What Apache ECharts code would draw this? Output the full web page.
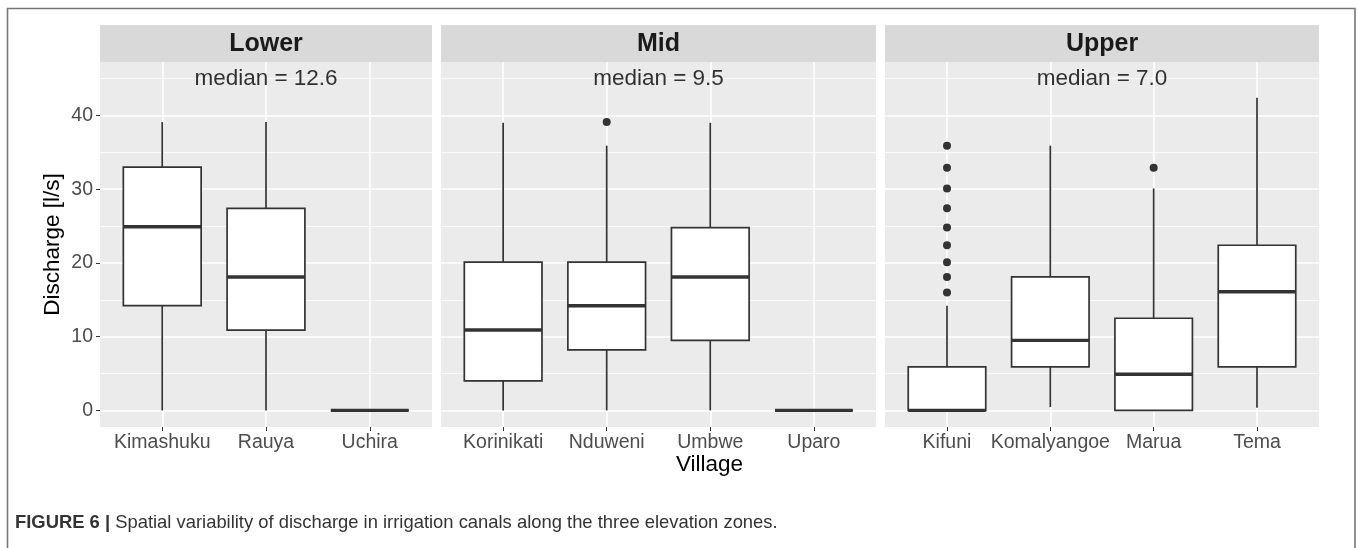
<!DOCTYPE html>
<html>
<head>
<meta charset="utf-8">
<script src="https://cdn.jsdelivr.net/npm/echarts@6/dist/echarts.min.js"></script>
<style>
html, body { margin: 0; padding: 0; background: #ffffff; }
#chart { width: 1358px; height: 548px; }
</style>
</head>
<body>
<div id="chart"></div>
<script>
// ---------------- DATA ----------------
const zones = ['Lower', 'Mid', 'Upper'];
const lowerVillages = ['Kimashuku', 'Rauya', 'Uchira'];
const midVillages = ['Korinikati', 'Nduweni', 'Umbwe', 'Uparo'];
const upperVillages = ['Kifuni', 'Komalyangoe', 'Marua', 'Tema'];
// box statistics per village: [lower whisker, Q1, median, Q3, upper whisker]
const lowerStats = [[0, 14.2, 24.9, 33.0, 39.1], [0, 10.9, 18.1, 27.4, 39.1], [0, 0, 0, 0, 0]];
const midStats = [[0, 4.0, 10.9, 20.1, 39.0], [0, 8.2, 14.2, 20.1, 35.9], [0, 9.5, 18.1, 24.8, 39.0], [0, 0, 0, 0, 0]];
const upperStats = [[0, 0, 0, 5.9, 14.2], [0.45, 5.9, 9.5, 18.1, 35.9], [0, 0, 4.9, 12.5, 30.1], [0.35, 5.9, 16.1, 22.4, 42.4]];
// outliers: [village index, discharge]
const lowerOutliers = [];
const midOutliers = [[1, 39.1]];
const upperOutliers = [[0, 35.9], [0, 32.9], [0, 30.1], [0, 27.4], [0, 24.8], [0, 22.4], [0, 20.1], [0, 18.1], [0, 16.0], [2, 32.9]];
const zoneMedians = [12.6, 9.5, 7.0];
const medianLabelY = 45;
const yTicks = [0, 10, 20, 30, 40];
const yMin = -2.25, yMax = 47.25;

// ---------------- LAYOUT ----------------
const FONT = '"Liberation Sans", Arial, Helvetica, sans-serif';
const zoneVillages = [lowerVillages, midVillages, upperVillages];
const zoneStats = [lowerStats, midStats, upperStats];
const zoneOutliers = [lowerOutliers, midOutliers, upperOutliers];
const panelLeft = [100, 441, 885];
const panelWidth = [332, 435, 434];
const panelTop = 62, panelHeight = 365, stripTop = 25, stripHeight = 37;
const INK = '#333333';

function boxRender(params, api) {
  const x = api.value(0);
  const pMin = api.coord([x, api.value(1)]);
  const pQ1 = api.coord([x, api.value(2)]);
  const pMed = api.coord([x, api.value(3)]);
  const pQ3 = api.coord([x, api.value(4)]);
  const pMax = api.coord([x, api.value(5)]);
  const w = api.size([0.75, 0])[0];
  const cx = pMed[0];
  return {
    type: 'group',
    children: [
      { type: 'line', shape: { x1: cx, y1: pMin[1], x2: cx, y2: pQ1[1] }, style: { stroke: INK, lineWidth: 1.7 } },
      { type: 'line', shape: { x1: cx, y1: pQ3[1], x2: cx, y2: pMax[1] }, style: { stroke: INK, lineWidth: 1.7 } },
      { type: 'rect', shape: { x: cx - w / 2, y: pQ3[1], width: w, height: pQ1[1] - pQ3[1] }, style: { fill: '#ffffff', stroke: INK, lineWidth: 1.7 } },
      { type: 'line', shape: { x1: cx - w / 2, y1: pMed[1], x2: cx + w / 2, y2: pMed[1] }, style: { stroke: INK, lineWidth: 3.4 } }
    ]
  };
}

const grids = [], xAxes = [], yAxes = [], series = [], graphics = [];

zones.forEach((zone, i) => {
  const cats = zoneVillages[i];
  const idx = cats.map((c, k) => k);
  grids.push({
    left: panelLeft[i], top: panelTop, width: panelWidth[i], height: panelHeight,
    show: true, backgroundColor: '#EBEBEB', borderWidth: 0,
    containLabel: false, outerBoundsMode: 'none'
  });
  xAxes.push({
    type: 'value', gridIndex: i, min: -0.6, max: cats.length - 0.4, position: 'bottom',
    axisLine: { show: false, onZero: false },
    axisTick: { show: true, length: 4, lineStyle: { color: INK, width: 1 }, customValues: idx },
    axisLabel: {
      customValues: idx, formatter: v => (cats[Math.round(v)] ?? ''),
      color: '#4D4D4D', fontSize: 19.5, fontFamily: FONT, margin: 6
    },
    splitLine: { show: true, lineStyle: { color: '#ffffff', width: 1.6 } },
    minorSplitLine: { show: false }
  });
  yAxes.push({
    type: 'value', gridIndex: i, min: yMin, max: yMax, position: 'left',
    axisLine: { show: false, onZero: false },
    axisTick: { show: i === 0, length: 4, lineStyle: { color: INK, width: 1 }, customValues: yTicks },
    axisLabel: { show: i === 0, customValues: yTicks, color: '#4D4D4D', fontSize: 19.5, fontFamily: FONT, margin: 7 },
    splitLine: { show: true, lineStyle: { color: '#ffffff', width: 1.6 } },
    minorTick: { show: false, splitNumber: 2 },
    minorSplitLine: { show: true, lineStyle: { color: '#ffffff', width: 0.8 } },
    name: i === 0 ? 'Discharge [l/s]' : '',
    nameLocation: 'middle', nameGap: 36,
    nameTextStyle: { fontSize: 22.5, color: '#000000', fontFamily: FONT }
  });
  series.push({
    type: 'custom', name: zone, xAxisIndex: i, yAxisIndex: i,
    data: zoneStats[i].map((s, k) => [k].concat(s)),
    encode: { x: 0, y: [1, 2, 3, 4, 5] },
    renderItem: boxRender, z: 3, silent: true
  });
  series.push({
    type: 'scatter', xAxisIndex: i, yAxisIndex: i,
    data: zoneOutliers[i], symbolSize: 8,
    itemStyle: { color: INK, opacity: 1 }, z: 4, silent: true
  });
  series.push({
    type: 'scatter', xAxisIndex: i, yAxisIndex: i,
    data: [[(cats.length - 1) / 2, medianLabelY]], symbolSize: 1,
    itemStyle: { color: 'rgba(0,0,0,0)' }, z: 5, silent: true,
    label: {
      show: true, position: 'inside',
      formatter: () => 'median = ' + zoneMedians[i].toFixed(1),
      fontSize: 22.5, color: '#000000', fontFamily: FONT
    }
  });
  // facet strip
  graphics.push({
    type: 'rect', shape: { x: panelLeft[i], y: stripTop, width: panelWidth[i], height: stripHeight },
    style: { fill: '#D9D9D9' }, silent: true
  });
  graphics.push({
    type: 'text', x: panelLeft[i] + panelWidth[i] / 2, y: stripTop + stripHeight / 2 + 0.5,
    style: {
      text: zone, fill: '#1A1A1A', font: 'bold 25px ' + FONT,
      align: 'center', verticalAlign: 'middle', textAlign: 'center', textVerticalAlign: 'middle'
    }, silent: true
  });
});

// x axis title
graphics.push({
  type: 'text', x: (panelLeft[0] + panelLeft[2] + panelWidth[2]) / 2, y: 465,
  style: {
    text: 'Village', fill: '#000000', font: '22.5px ' + FONT,
    align: 'center', verticalAlign: 'middle', textAlign: 'center', textVerticalAlign: 'middle'
  }, silent: true
});
// figure frame
graphics.push({
  type: 'rect', shape: { x: 7.5, y: 8.5, width: 1347.5, height: 600 },
  style: { fill: 'none', stroke: '#777777', lineWidth: 1.6 }, silent: true, z: -1
});
// caption
graphics.push({
  type: 'text', x: 15, y: 523,
  style: {
    text: '{b|FIGURE 6 |} Spatial variability of discharge in irrigation canals along the three elevation zones.',
    fill: '#333333', font: '18.4px ' + FONT,
    verticalAlign: 'middle', textVerticalAlign: 'middle',
    rich: { b: { fontWeight: 'bold', fontSize: 18.4, fontFamily: FONT, fill: '#333333', color: '#333333' } }
  }, silent: true
});

const chart = echarts.init(document.getElementById('chart'), null, { renderer: 'canvas' });
chart.setOption({
  backgroundColor: '#ffffff',
  animation: false,
  grid: grids,
  xAxis: xAxes,
  yAxis: yAxes,
  series: series,
  graphic: graphics
});
</script>
</body>
</html>
